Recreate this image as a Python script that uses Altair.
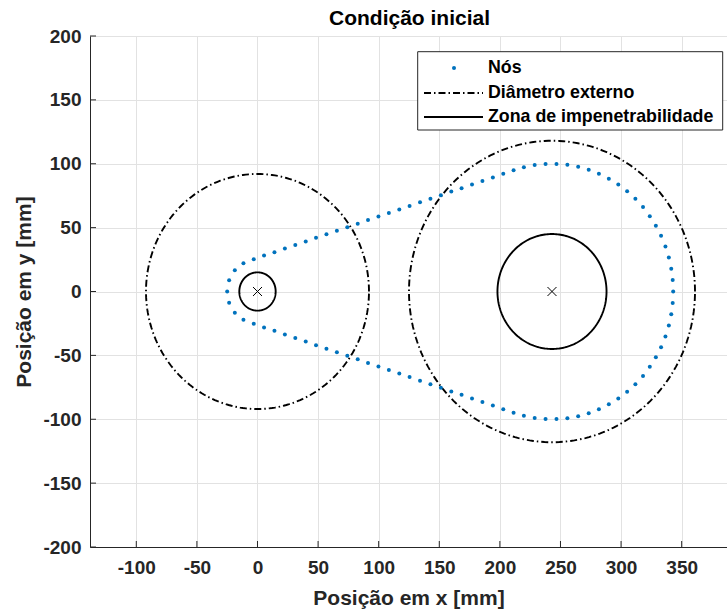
import altair as alt
import numpy as np
import pandas as pd

# ---------------- data ----------------
title_text = "Condição inicial"
x_title = "Posição em x [mm]"
y_title = "Posição em y [mm]"
legend_labels = ["Nós", "Diâmetro externo", "Zona de impenetrabilidade"]

x_ticks = [-100, -50, 0, 50, 100, 150, 200, 250, 300, 350]
y_ticks = [-200, -150, -100, -50, 0, 50, 100, 150, 200]

# chain nodes
node_x = [
    343.0, 342.6, 341.4, 339.4, 336.6, 333.0, 328.7, 323.7, 318.1, 311.8, 305.0,
    297.7, 289.9, 281.7, 273.3, 264.6, 255.7, 246.7, 237.7, 228.7, 219.8,
    211.3, 202.8, 194.2, 185.6, 177.0, 168.4, 159.9, 151.3, 142.7, 134.1, 125.5,
    117.0, 108.4, 99.8, 91.2, 82.7, 74.1, 65.5, 56.9, 48.3, 39.8, 31.2, 22.6,
    14.0, 5.4, -3.1,
    -11.6, -18.7, -23.4, -25.0, -23.4, -18.7, -11.6,
    -3.1, 5.4, 14.0, 22.6, 31.2, 39.8, 48.3, 56.9, 65.5, 74.1, 82.7, 91.2, 99.8,
    108.4, 117.0, 125.5, 134.1, 142.7, 151.3, 159.9, 168.4, 177.0, 185.6, 194.2,
    202.8, 211.3,
    219.8, 228.7, 237.7, 246.7, 255.7, 264.6, 273.3, 281.7, 289.9, 297.7, 305.0,
    311.8, 318.1, 323.7, 328.7, 333.0, 336.6, 339.4, 341.4, 342.6,
]
node_y = [
    0.0, 9.0, 17.9, 26.7, 35.3, 43.6, 51.5, 59.0, 66.1, 72.6, 78.5,
    83.7, 88.3, 92.2, 95.3, 97.6, 99.2, 99.9, 99.9, 99.0, 97.3,
    94.9, 92.1, 89.3, 86.5, 83.7, 80.9, 78.2, 75.4, 72.6, 69.8, 67.0,
    64.2, 61.5, 58.7, 55.9, 53.1, 50.3, 47.5, 44.8, 42.0, 39.2, 36.4, 33.6,
    30.8, 28.1, 25.3,
    22.2, 16.6, 8.9, 0.0, -8.9, -16.6, -22.2,
    -25.3, -28.1, -30.8, -33.6, -36.4, -39.2, -42.0, -44.8, -47.5, -50.3, -53.1,
    -55.9, -58.7, -61.5, -64.2, -67.0, -69.8, -72.6, -75.4, -78.2, -80.9, -83.7,
    -86.5, -89.3, -92.1, -94.9,
    -97.3, -99.0, -99.9, -99.9, -99.2, -97.6, -95.3, -92.2, -88.3, -83.7, -78.5,
    -72.6, -66.1, -59.0, -51.5, -43.6, -35.3, -26.7, -17.9, -9.0,
]

# sprocket centres and radii
center_x = [0.0, 243.0]
center_y = [0.0, 0.0]
outer_r = [92.0, 118.0]   # diâmetro externo
inner_r = [15.0, 45.0]    # zona de impenetrabilidade


def outline(cx, cy, radii, tag):
    rows = []
    ang = np.linspace(0, 2 * np.pi, 241)
    for i, (x0, y0, r) in enumerate(zip(cx, cy, radii)):
        for j, a in enumerate(ang):
            rows.append({"x": x0 + r * np.cos(a), "y": y0 + r * np.sin(a),
                         "c": f"{tag}{i}", "o": j})
    return pd.DataFrame(rows)


nodes_df = pd.DataFrame({"x": node_x, "y": node_y})
outer_df = outline(center_x, center_y, outer_r, "o")
inner_df = outline(center_x, center_y, inner_r, "i")
centers_df = pd.DataFrame({"x": center_x, "y": center_y})
xt_df = pd.DataFrame({"x": x_ticks})
yt_df = pd.DataFrame({"y": y_ticks})
one = pd.DataFrame({"k": [0]})

# ---------------- layout ----------------
W, H = 637, 511
FONT = "Liberation Sans"
TXT = "#262626"
GRID = "#e2e2e2"

xs = alt.Scale(domain=[-138.2, 387.4], nice=False, zero=False)
ys = alt.Scale(domain=[-200, 200], nice=False, zero=False)

common = dict(grid=True, gridColor=GRID, ticks=False, domainColor=TXT,
              labelFont=FONT, labelFontSize=19, labelFontWeight="bold",
              labelColor=TXT, labelOverlap=False, labelFlush=False,
              labelExpr="'' + datum.value",
              titleFont=FONT, titleFontSize=21, titleFontWeight="bold",
              titleColor=TXT)
x_axis = alt.Axis(values=x_ticks, title=x_title, labelPadding=11,
                  titlePadding=10, **common)
y_axis = alt.Axis(values=y_ticks, title=y_title, labelPadding=9,
                  titlePadding=8, **common)


def X(field="x"):
    return alt.X(f"{field}:Q", scale=xs, axis=x_axis)


def Y(field="y"):
    return alt.Y(f"{field}:Q", scale=ys, axis=y_axis)


nodes = alt.Chart(nodes_df).mark_circle(size=16, color="#0072BD", opacity=1).encode(
    x=X(), y=Y())

outer = alt.Chart(outer_df).mark_line(
    color="black", strokeWidth=1.9, strokeDash=[7, 3, 1.5, 3]
).encode(x=X(), y=Y(), detail="c:N", order="o:Q")

inner = alt.Chart(inner_df).mark_line(color="black", strokeWidth=1.9).encode(
    x=X(), y=Y(), detail="c:N", order="o:Q")

crosses = alt.Chart(centers_df).mark_point(
    shape="M-1,-1L1,1M-1,1L1,-1", size=81, filled=False, color="black",
    strokeWidth=1, opacity=1
).encode(x=X(), y=Y())

xticks_in = alt.Chart(xt_df).mark_rule(color=TXT, strokeWidth=1).encode(
    x=X(), y=alt.value(H), y2=alt.value(H - 6))
yticks_in = alt.Chart(yt_df).mark_rule(color=TXT, strokeWidth=1).encode(
    y=Y(), x=alt.value(0), x2=alt.value(6))

# title as text placed above the plot area
title_mark = alt.Chart(one).mark_text(
    text=title_text, font=FONT, fontSize=21, fontWeight="bold", color="black",
    align="center", baseline="middle"
).encode(x=alt.value(W / 2 + 1), y=alt.value(-17))

# legend (drawn by hand)
LX0, LX1, LY0, LY1 = 327.7, 632.7, 15.7, 94.0
rows_y = [32.0, 57.0, 81.0]
leg_box = alt.Chart(one).mark_rect(fill="white", stroke=TXT, strokeWidth=1).encode(
    x=alt.value(LX0), x2=alt.value(LX1), y=alt.value(LY0), y2=alt.value(LY1))
leg_dot = alt.Chart(one).mark_circle(size=16, color="#0072BD", opacity=1).encode(
    x=alt.value(364), y=alt.value(rows_y[0]))
leg_dash = alt.Chart(one).mark_rule(color="black", strokeWidth=1.9,
                                    strokeDash=[7, 3, 1.5, 3]).encode(
    x=alt.value(334), x2=alt.value(393), y=alt.value(rows_y[1]))
leg_solid = alt.Chart(one).mark_rule(color="black", strokeWidth=1.9).encode(
    x=alt.value(334), x2=alt.value(393), y=alt.value(rows_y[2]))
leg_texts = [
    alt.Chart(one).mark_text(text=lab, font=FONT, fontSize=17.8, fontWeight="bold",
                             color="black", align="left", baseline="middle").encode(
        x=alt.value(398), y=alt.value(ry))
    for lab, ry in zip(legend_labels, rows_y)
]

chart = alt.layer(
    outer, inner, nodes, crosses, xticks_in, yticks_in,
    leg_box, leg_dot, leg_dash, leg_solid, *leg_texts, title_mark
).properties(
    width=W, height=H,
    autosize=alt.AutoSizeParams(type="none"),
    padding={"left": 90, "top": 36, "right": 0, "bottom": 63},
).configure_view(stroke=None).configure(background="white")

chart.save("out.html", embed_options={"renderer": "svg", "actions": False})
